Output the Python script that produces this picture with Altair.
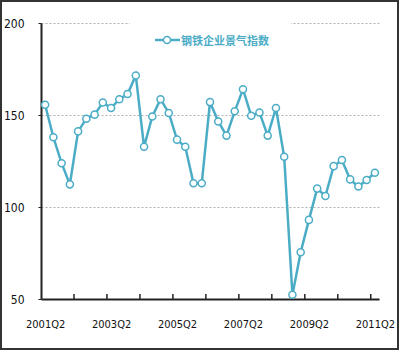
import json
import altair as alt
import pandas as pd

# ---- data ----
quarters = [f"{2001 + (q // 4)}Q{q % 4 + 1}" for q in range(1, 42)]  # 2001Q2 .. 2011Q2
values = [155.6, 137.9, 123.8, 112.3, 141.1, 148.0, 150.2, 156.8, 153.8, 158.6,
          161.4, 171.5, 132.7, 149.2, 158.6, 151.1, 136.6, 132.7, 112.9, 112.9,
          157.0, 146.5, 138.8, 152.0, 164.0, 149.6, 151.4, 138.8, 153.8, 127.3,
          52.3, 75.4, 93.0, 110.0, 106.0, 122.2, 125.5, 115.0, 111.1, 114.7, 118.6]
label_quarters = ["2001Q2", "2003Q2", "2005Q2", "2007Q2", "2009Q2", "2011Q2"]
y_ticks = [50, 100, 150, 200]
series_name = "钢铁企业景气指数"

df = pd.DataFrame({"i": list(range(len(values))), "q": quarters, "v": values})
label_idx = [quarters.index(q) for q in label_quarters]
tick_df = pd.DataFrame({"i": [k - 0.5 for k in range(4, len(values), 4)]})
one = pd.DataFrame({"a": [0]})

W, H = 338, 276
COLOR = "#4BACC6"
NARROW = "DejaVu Sans Condensed, sans-serif"

xscale = alt.Scale(domain=[-0.5, len(values) - 0.5], nice=False, zero=False)
yscale = alt.Scale(domain=[50, 200], nice=False, zero=False)

label_expr = json.dumps(quarters) + "[datum.value]"

x_enc = alt.X("i:Q", scale=xscale,
              axis=alt.Axis(values=label_idx, labelExpr=label_expr, title=None,
                            grid=False, tickSize=0, labelPadding=19,
                            domainColor="#222", domainWidth=2,
                            labelFont=NARROW, labelFontSize=11, labelColor="#111"))
y_enc = alt.Y("v:Q", scale=yscale,
              axis=alt.Axis(values=y_ticks, title=None, grid=True,
                            gridDash=[2, 2], gridColor="#b0b0b0", gridWidth=1,
                            tickSize=3, tickColor="#222", labelPadding=14,
                            domainColor="#222", domainWidth=2,
                            labelFont=NARROW, labelFontSize=12, labelColor="#111"))

base = alt.Chart(df)

line = base.mark_line(color=COLOR, strokeWidth=2.5).encode(x=x_enc, y=y_enc)

points = base.mark_point(shape="circle", filled=True, fill="white", stroke=COLOR,
                         strokeWidth=1.5, size=50, opacity=1).encode(x=x_enc, y=y_enc)

ticks = alt.Chart(tick_df).mark_rule(color="#222", strokeWidth=1.5).encode(
    x=x_enc, y=alt.value(H - 5), y2=alt.value(H))

legend_bg = alt.Chart(one).mark_rect(color="white").encode(
    x=alt.value(89), x2=alt.value(250), y=alt.value(-4), y2=alt.value(32))
legend_line = alt.Chart(one).mark_rule(color=COLOR, strokeWidth=2.5).encode(
    x=alt.value(114), x2=alt.value(139), y=alt.value(17))
legend_pt = alt.Chart(one).mark_point(shape="circle", filled=True, fill="white",
                                       stroke=COLOR, strokeWidth=1.5, size=50,
                                       opacity=1).encode(
    x=alt.value(126), y=alt.value(17))
legend_txt = alt.Chart(one).mark_text(align="left", baseline="middle",
                                      font="Noto Sans CJK SC", fontSize=11,
                                      fontWeight="bold", color=COLOR).encode(
    x=alt.value(140), y=alt.value(19), text=alt.value(series_name))

border = alt.Chart(one).mark_rect(filled=False, stroke="#333", strokeWidth=2).encode(
    x=alt.value(-40), x2=alt.value(357), y=alt.value(-22), y2=alt.value(326))

chart = alt.layer(line, ticks, points, legend_bg, legend_line, legend_pt,
                  legend_txt, border).properties(
    width=W, height=H,
    autosize=alt.AutoSizeParams(type="none"),
    padding={"left": 41, "top": 23, "right": 21, "bottom": 52},
    background="white",
).configure_view(stroke=None)

chart.save("out.html", embed_options={"renderer": "svg", "actions": False})
